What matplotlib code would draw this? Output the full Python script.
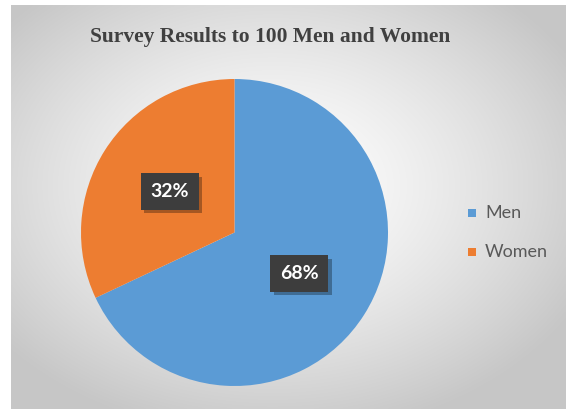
import numpy as np
import matplotlib
matplotlib.use("Agg")
import matplotlib.pyplot as plt
import matplotlib.patheffects as pe
from matplotlib.patches import Rectangle

# Survey data
categories = ["Men", "Women"]
counts = [68, 32]
colors = ["#5B9BD5", "#ED7D31"]
title = "Survey Results to 100 Men and Women"

W, H, DPI = 566, 409, 100
fig = plt.figure(figsize=(W / DPI, H / DPI), dpi=DPI)
fig.patch.set_facecolor("white")

# Chart area with a soft radial gradient background
left, top = 11, 5
bg = fig.add_axes([left / W, 0, (W - left) / W, (H - top) / H])
bg.set_axis_off()
ny, nx = 200, 280
yy, xx = np.mgrid[0:ny, 0:nx]
cx, cy = 0.47 * nx, 0.55 * ny
d = np.sqrt(((xx - cx) / (0.62 * nx)) ** 2 + ((yy - cy) / (0.62 * ny)) ** 2)
d = np.clip(d, 0, 1)
shade = 1.0 - 0.22 * d ** 1.4
img = np.dstack([shade, shade, shade])
bg.imshow(img, extent=[0, 1, 0, 1], aspect="auto", origin="lower", interpolation="bicubic")
bg.set_xlim(0, 1)
bg.set_ylim(0, 1)

# Pie axes
cxp, cyp, R = 234.5, 232.5, 153.5
ax = fig.add_axes([(cxp - R) / W, (H - cyp - R) / H, 2 * R / W, 2 * R / H])
ax.set_axis_off()
wedges, _ = ax.pie(counts, colors=colors, startangle=90, counterclock=False,
                   radius=1.0, wedgeprops=dict(linewidth=0))
ax.set_xlim(-1, 1)
ax.set_ylim(-1, 1)
ax.set_aspect("auto")

# Percentage labels in dark boxes with a drop shadow
total = sum(counts)
for w, v in zip(wedges, counts):
    ang = np.deg2rad((w.theta1 + w.theta2) / 2)
    x, y = 0.5 * np.cos(ang), 0.5 * np.sin(ang)
    t = ax.text(x, y, f"{round(100 * v / total)}%", ha="center", va="center",
                color="white", fontsize=14, fontweight="bold", family="Lato",
                bbox=dict(boxstyle="square,pad=0.5", facecolor="#3d3d3d",
                          edgecolor="none"))
    t.get_bbox_patch().set_path_effects([
        pe.SimplePatchShadow(offset=(2.5, -2.5), shadow_rgbFace="black", alpha=0.3),
        pe.Normal()])

# Title
fig.text(270 / W, 1 - 37 / H, title, ha="center", va="center",
         fontsize=15.5, fontweight="bold", family="Liberation Serif", color="#404040")

# Legend
leg_items = [(213, categories[0], colors[0]), (252, categories[1], colors[1])]
for ly, lab, col in leg_items:
    fig.patches.append(Rectangle(((468) / W, 1 - (ly + 4) / H), 8 / W, 8 / H,
                                 transform=fig.transFigure, facecolor=col,
                                 edgecolor="none"))
    fig.text(485 / W, 1 - ly / H, lab, ha="left", va="center", fontsize=13,
             family="Lato", color="#595959")

fig.savefig("out.png", dpi=DPI)
